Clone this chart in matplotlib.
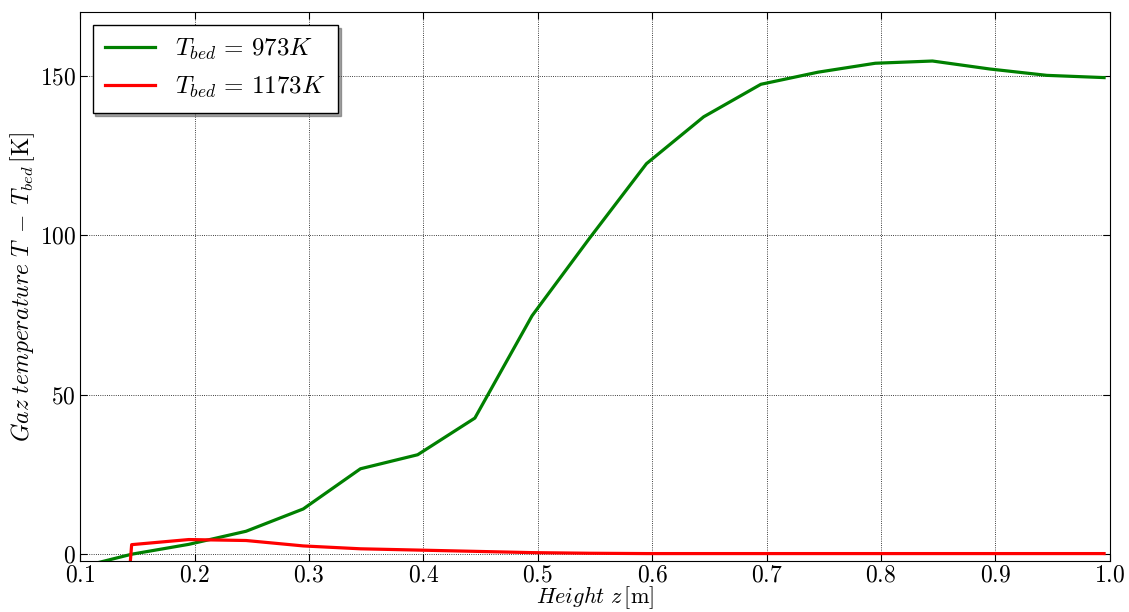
import matplotlib
matplotlib.use('Agg')
import matplotlib.pyplot as plt

plt.rcParams['font.family'] = 'serif'
plt.rcParams['font.serif'] = ['cmr10']
plt.rcParams['mathtext.fontset'] = 'cm'
plt.rcParams['axes.unicode_minus'] = False
plt.rcParams['axes.formatter.use_mathtext'] = True

# green: T_bed = 973 K
z_973 = [0.095, 0.145, 0.195, 0.245, 0.295, 0.345, 0.395, 0.445, 0.495, 0.545,
         0.595, 0.645, 0.695, 0.745, 0.795, 0.845, 0.895, 0.945, 0.995]
dT_973 = [-4.5, 0.0, 3.1, 7.2, 14.2, 26.8, 31.2, 42.7, 74.8, 99.0,
          122.5, 137.2, 147.4, 151.2, 154.0, 154.7, 152.2, 150.2, 149.5]
# red: T_bed = 1173 K
z_1173 = [0.1435, 0.145, 0.195, 0.245, 0.295, 0.345, 0.395, 0.445, 0.495, 0.545,
          0.595, 0.645, 0.695, 0.745, 0.795, 0.845, 0.895, 0.945, 0.995]
dT_1173 = [-4.0, 3.0, 4.6, 4.3, 2.6, 1.7, 1.3, 0.9, 0.5, 0.3,
           0.2, 0.2, 0.2, 0.2, 0.2, 0.2, 0.2, 0.2, 0.2]

fig = plt.figure(figsize=(11.29, 6.12), dpi=100)
ax = fig.add_axes([0.071, 0.084, 0.912, 0.896])

ax.plot(z_973, dT_973, color='green', lw=2.3, label=r'$T_{bed}\,=\,973K$')
ax.plot(z_1173, dT_1173, color='red', lw=2.3, label=r'$T_{bed}\,=\,1173K$')

ax.set_xlim(0.1, 1.0)
ax.set_ylim(-2, 170)
ax.set_xticks([0.1, 0.2, 0.3, 0.4, 0.5, 0.6, 0.7, 0.8, 0.9, 1.0])
ax.set_yticks([0, 50, 100, 150])
ax.tick_params(direction='in', top=True, right=True, labelsize=17, length=5, pad=3)
ax.grid(True, color='black', linestyle=':', linewidth=0.6)

ax.set_xlabel(r'$Height\ z\,[\mathrm{m}]$', fontsize=16, labelpad=-2)
ax.set_ylabel(r'$Gaz\ temperature\ T\;-\;T_{bed}\,[\mathrm{K}]$', fontsize=17, labelpad=2)

leg = ax.legend(loc='upper left', fontsize=18, shadow=True, fancybox=False,
                handlelength=2, borderpad=0.5, edgecolor='black')
leg.get_frame().set_linewidth(1.0)

fig.savefig('out.png', dpi=100)
